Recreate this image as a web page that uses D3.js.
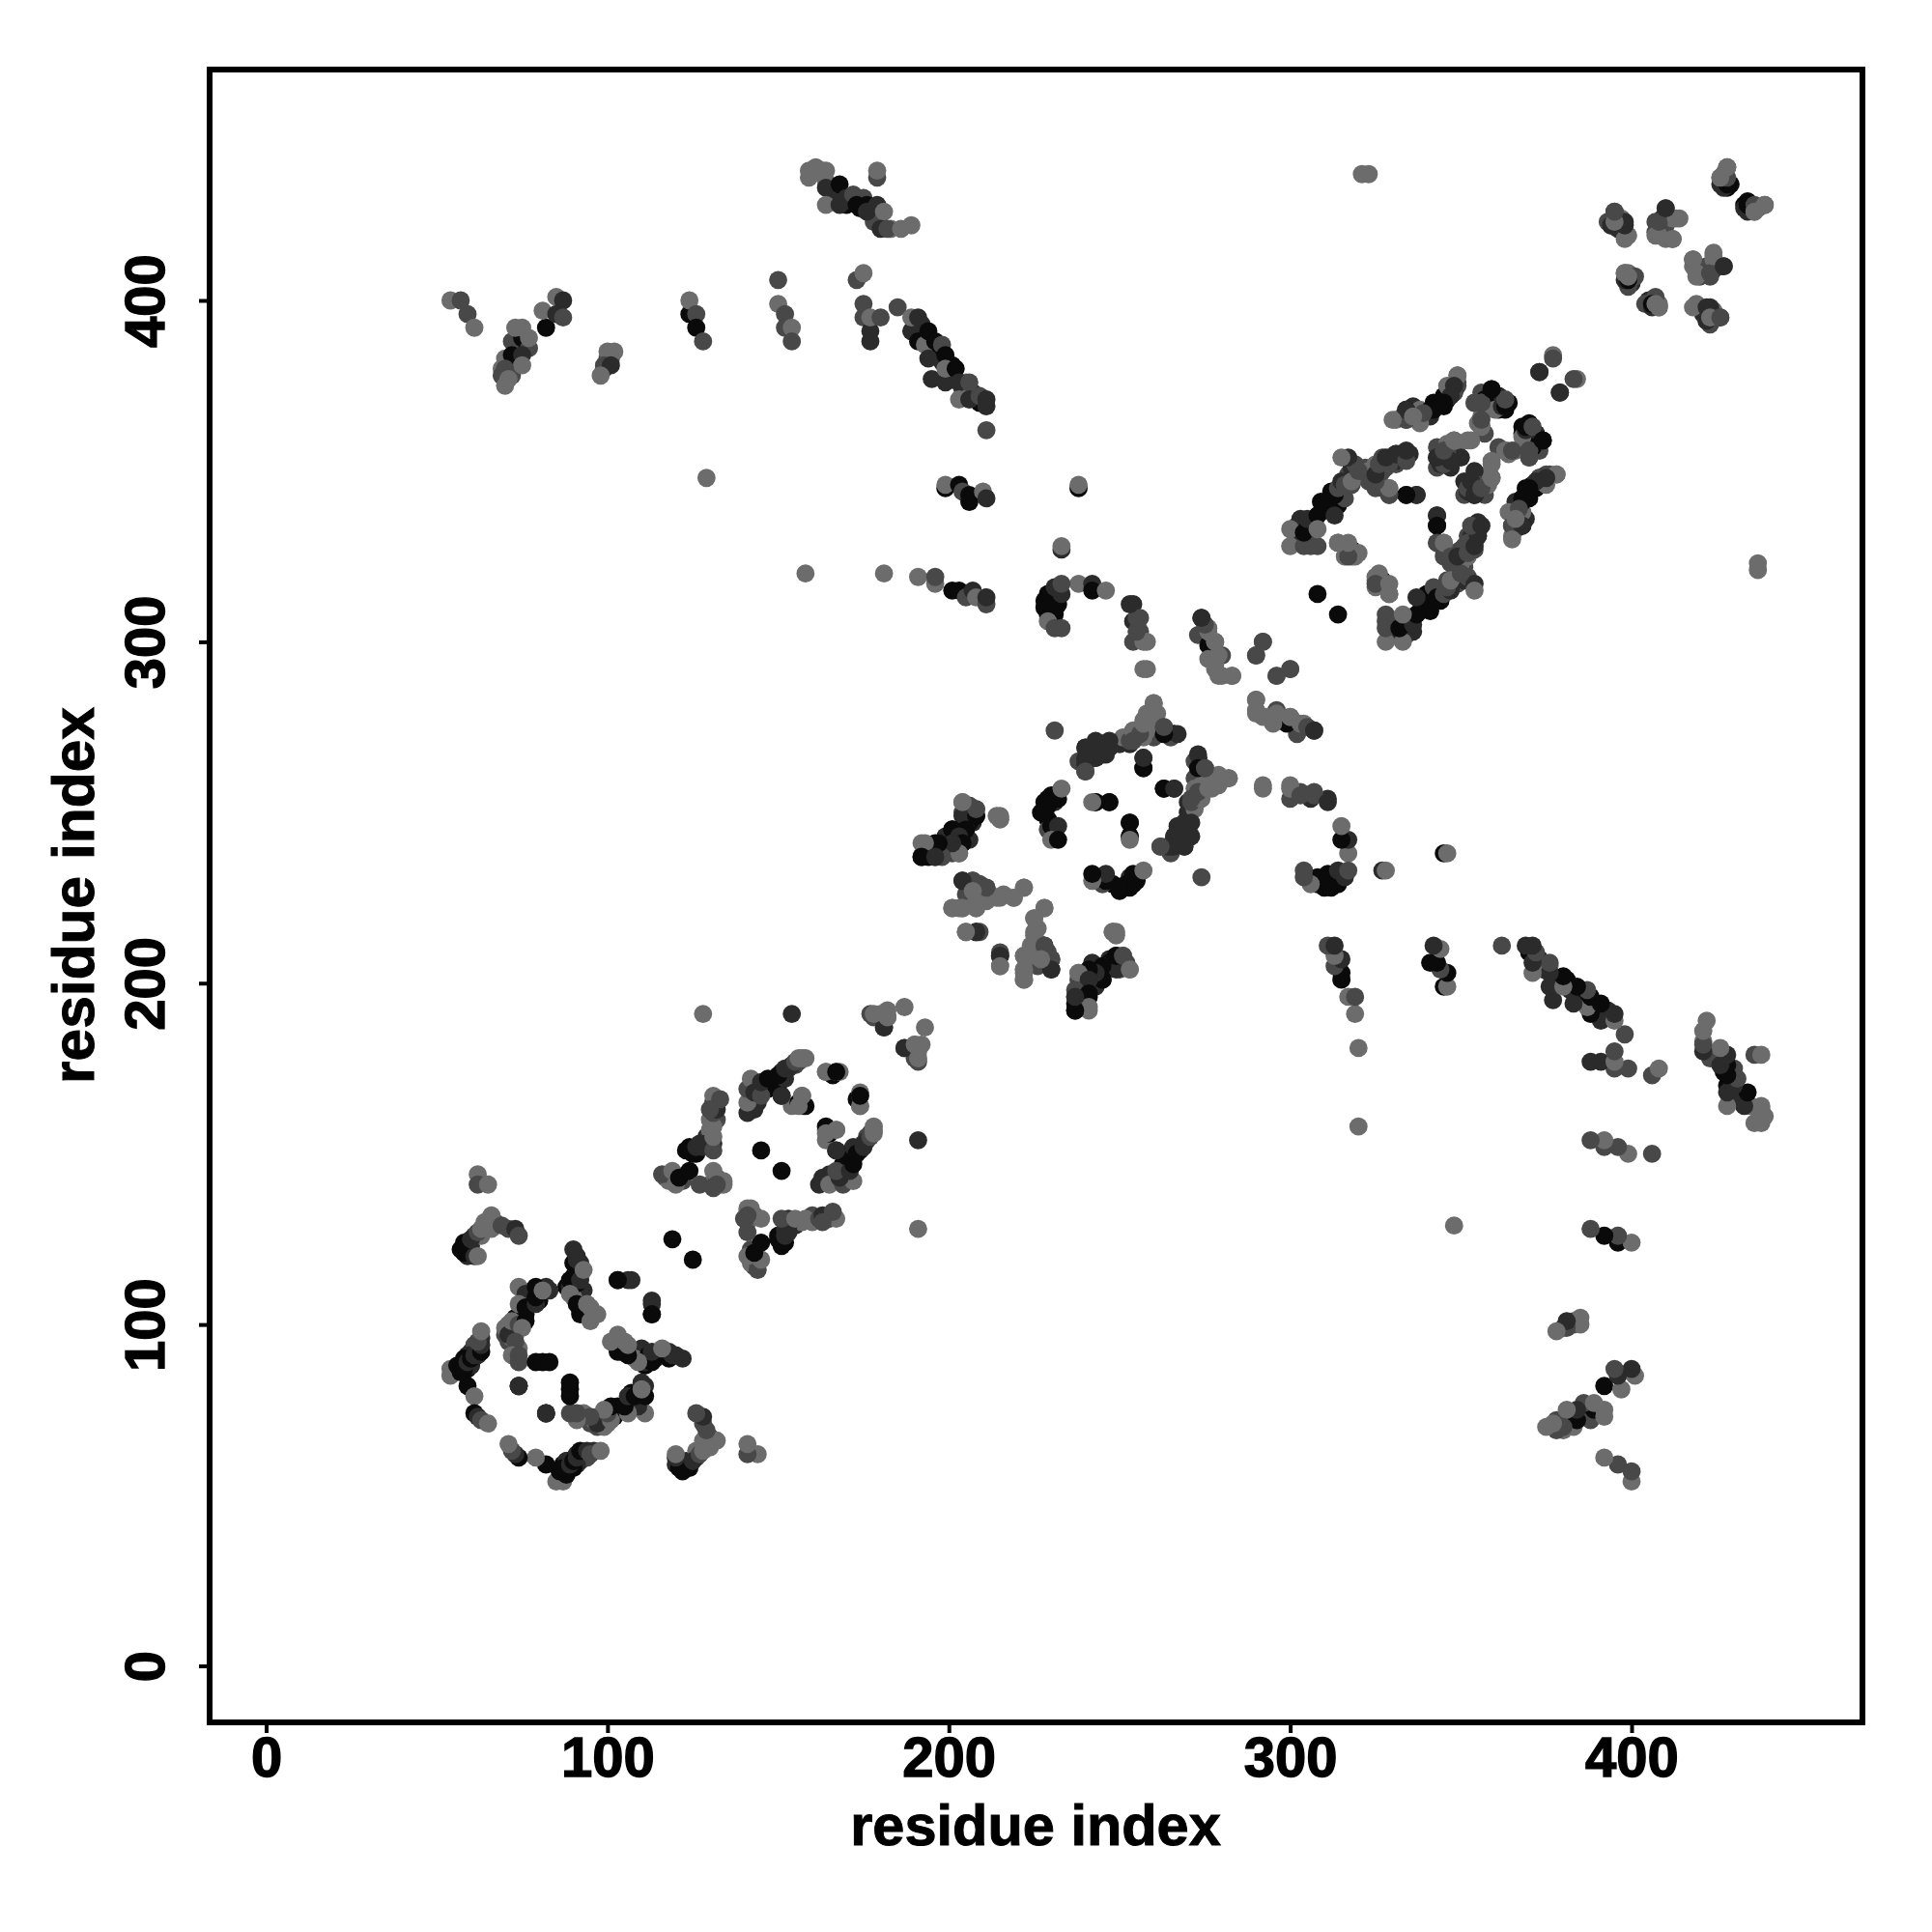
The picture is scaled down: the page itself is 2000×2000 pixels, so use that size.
<!DOCTYPE html>
<html><head><meta charset="utf-8">
<script src="https://cdn.jsdelivr.net/npm/d3@7"></script>
<style>html,body{margin:0;padding:0;background:#fff}svg{display:block}</style>
</head><body><svg id="c" width="2000" height="2000"></svg>
<script>
// Each contact: [residue i, residue j, shade level]. Drawn at (i,j) and mirrored at (j,i).
const shadeColors = ["#0a0a0a", "#2b2b2b", "#484848", "#6c6c6c"];
const tickValues = [0, 100, 200, 300, 400];
const axisLabel = "residue index";

const underA = [
[58,124,0],[60,123,1],[59,120,1],[61,126,2],[63,126,3],[65,129,3],[67,130,2],[66,128,3],[71,128,2],
[60,92,1],[61,94,2],[62,92,0],[60,88,0],[55,86,3],[59,87,0],[60,88,1],[59,91,1],[62,91,1],[63,96,1],
[76,103,0],[77,106,0],[78,110,0],[80,109,1],[82,111,1],[76,107,1],[71,100,3],[73,98,2],[74,93,3],[73,97,3],
[88,111,0],[89,111,1],[90,110,0],[90,114,0],[91,115,1],[92,118,1],[90,118,0],[93,110,1],[90,108,3],[92,104,0],[94,103,3],
[71,95,2],[71,99,3],[70,97,2],[72,97,1],[73,100,3],[72,99,2],[73,102,0],[72,96,3],[79,109,0],[80,107,0],[82,110,1]
];
const underB = [
[146,170,0],[148,171,0],[149,172,0],[151,174,1],[153,175,1],[155,176,2],[156,177,2],[158,178,3],[144,170,1],[143,170,2],[144,165,1],[143,163,1],[142,167,2],
[125,150,0],[126,150,0],[128,152,1],[130,152,1],[129,155,1],[130,156,2],[131,153,1],[130,157,3],[132,165,2],[131,165,1],[132,160,2],
[117,143,2],[120,143,2],[122,142,2],[118,142,3],[130,141,3],[132,143,2],[134,142,3],[134,141,3],[147,169,0],[150,170,0],[152,172,1]
];
const underC = [
[245,270,1],[242,268,1],[241,267,1],[246,267,1],[238,265,2],[244,268,1],[255,272,2],[256,274,3],[252,271,1],[250,270,1],[258,275,3],[259,278,3],[261,279,3],
[273,266,0],[272,260,2],[272,257,3],[274,258,3],[270,253,1],[269,247,1],[268,241,1],[264,240,1],[267,245,1],
[227,250,0],[228,253,0],[229,254,0],[230,255,0],[231,253,1],[229,248,0],[231,244,0],[229,245,2],[231,243,0],
[200,243,1],[199,240,0],[194,239,1],[194,237,0],[197,239,1],[201,238,2],[203,242,1],[206,252,2],[207,247,1],[205,248,0],[206,248,2],
[206,224,3],[209,226,2],[211,224,3],[205,226,2],[212,226,3],[203,222,3],[226,216,3],[225,209,3],[229,209,2],
[239,200,1],[243,199,1],[238,194,0],[239,197,0],[247,206,0],[249,206,1],[240,202,0],[242,206,1]
];
const underD = [
[335,366,1],[337,366,2],[339,367,0],[342,370,0],[345,372,0],[347,374,1],[349,375,2],[345,369,0],[361,372,1],[363,368,0],[368,361,0],[372,361,1],[373,356,2],[371,357,0],[364,355,3],[360,368,3],[357,361,2],
[344,356,2],[346,354,1],[343,351,2],[349,355,3],[354,350,1],[355,346,2],[351,347,1],[352,344,1],[357,343,2],
[373,348,0],[371,345,0],[369,343,0],[366,341,1],[367,337,1],[369,336,1],[366,333,2],[376,349,2],[364,338,3],
[302,330,1],[302,334,2],[303,336,1],[305,333,0],[306,332,2],[309,338,1],[310,339,0],[312,341,0],[309,341,0],[312,344,0],[314,340,0],[315,343,1],[316,342,2],[317,349,2],[318,351,1],[319,352,2],[318,346,2],[306,328,2],
[322,351,2],[326,351,2],[328,352,2],[330,353,2],[332,353,1],[333,354,1],[327,345,2],[323,350,3],[323,347,2],
[351,328,2],[352,331,2],[353,331,1],[354,333,1],[352,329,2],[355,332,2],[348,326,2],[350,327,2],[316,328,2],[318,325,3],[317,326,0]
];
const underE = [
[427,437,3],[428,433,0],[429,434,0],[433,427,1],[434,426,1],[396,423,1],[397,421,1],[409,424,1],[409,420,2],[410,418,3],[419,410,3],[422,410,2],[420,407,2],[400,405,1],[399,404,2],[399,407,2],[406,398,1],[408,399,3],[421,396,1],[422,396,1],[423,393,2],[424,397,3]
];
const underF = [
[73,388,3],[74,386,0],[73,385,1],[76,387,1],[71,382,3],[70,383,3],[72,380,2],[72,378,2],[69,380,3],[74,390,3],[75,386,0],[100,383,2],[101,383,2],[99,380,2]
];
const underG = [
[190,393,1],[192,390,0],[193,389,1],[195,386,0],[197,385,0],[198,382,1],[200,378,0],[201,381,0],[201,377,1],[204,374,1],[205,373,1],[207,373,1],[208,371,1],[209,370,0],[205,376,3],[204,372,3],[192,393,1],
[166,431,1],[168,431,1],[170,428,0],[172,429,2],[174,427,0],[175,430,2],[177,426,1],[178,425,0],[179,424,1],[177,427,2],[178,423,2],[183,421,3],[160,438,3],[163,438,3],
[229,310,0],[230,313,0],[231,312,0],[229,308,0],[232,311,0],[231,310,0],[232,315,1],[230,314,0],[228,310,0]
];

const blockA = [
[57,122,0],[58,121,0],[58,123,0],[59,124,0],[60,125,1],[61,120,1],[62,120,3],[62,127,2],[63,128,3],[64,130,3],[66,132,3],[69,129,2],[73,128,1],[74,126,2],
[62,144,3],[62,141,2],[65,141,3],
[119,125,0],
[82,74,1],[74,82,1],
[54,87,3],[54,85,3],[56,88,0],[57,86,0],[58,87,0],[58,90,0],[59,89,1],[60,90,0],[61,91,1],[63,92,0],[63,94,1],[62,95,2],[63,98,3],
[59,82,0],[61,79,3],[61,74,0],[62,73,1],[63,72,2],[65,71,3],
[70,99,3],[71,97,1],[72,101,3],[74,100,2],[76,101,0],[75,99,3],[73,95,2],[72,91,3],[74,91,2],[74,89,2],[74,111,3],[76,109,1],[74,106,3],[76,105,0],[79,106,1],[79,108,0],[79,111,0],[83,110,1],[81,110,3],
[79,89,0],[81,89,0],[83,89,0],[74,82,1],
[90,122,1],[91,120,1],[91,119,1],[89,113,0],[91,112,0],[92,113,1],[93,116,3],[89,109,3],[91,106,0],[92,103,0],[94,106,3],[95,105,3],[95,101,3],[97,103,3],
[103,113,1],[106,113,1],[113,107,1],[113,103,0]
];

const blockB = [
[128,191,3],[154,191,1],[177,191,2],[178,190,2],[180,191,3],[181,187,2],[182,190,3],[182,192,3],[187,193,3],[187,181,1],[190,182,3],[191,178,3],
[141,162,1],[141,165,3],[141,169,2],[142,172,3],[143,168,1],[145,167,2],[145,171,1],[147,172,0],[150,173,0],[151,167,0],[152,175,1],[154,176,1],[155,177,2],[156,178,3],[157,178,3],
[154,164,3],[156,165,0],[157,167,3],[157,164,3],[164,174,3],[166,173,0],[167,174,3],[174,168,3],[174,164,3],[174,167,0],[164,158,0],[164,156,3],[167,157,3],[167,151,1],
[116,144,2],[118,144,2],[119,145,3],[120,141,3],[121,143,0],[124,145,0],[127,141,2],[131,140,2],[131,145,3],[133,141,3],[132,141,2],
[123,151,0],[124,152,0],[126,152,1],[127,153,1],[129,153,1],[131,151,2],[131,155,3],[130,160,3],[131,158,3],[131,162,2],[132,163,1],[131,167,3],[133,166,2],[130,163,2],
[145,151,0]
];

const blockC = [
[231,274,2],[240,269,1],[243,270,1],[247,270,1],[240,262,2],[240,265,1],[243,266,1],[247,269,1],
[251,272,3],[253,271,2],[254,274,3],[257,277,3],[258,279,3],[260,282,3],[263,275,2],[266,273,0],[265,272,2],
[257,266,1],[257,263,0],[273,267,1],[273,263,0],[275,263,2],[263,257,0],[266,257,1],
[271,254,2],[273,256,2],[276,257,3],[279,259,3],[282,260,3],
[271,247,1],[269,244,1],[266,243,1],[271,243,1],[269,240,1],[266,240,1],[262,240,2],
[229,252,0],[228,250,0],[231,255,0],[232,254,0],[233,257,3],[230,246,0],[232,246,1],[230,242,3],[232,242,0],
[243,253,0],[247,253,0],[253,247,0],[253,243,0],[242,253,3],
[204,253,3],[204,250,2],[208,251,2],[208,249,0],[204,249,1],[201,245,0],[205,245,2],[204,242,1],[200,241,1],[196,241,0],[192,241,3],[192,237,0],[196,237,2],[198,238,1],[203,238,3],[215,248,3],[214,249,3],
[204,230,1],[207,230,2],[207,228,2],[211,228,1],[215,225,3],[219,225,3],[222,228,3],[208,224,3],[204,222,3],[201,222,3],[208,222,3],
[205,215,3],[208,215,0],[209,215,2],[215,208,1],[215,205,3],[228,222,3],[225,219,3],[225,214,3],[225,211,3],[228,211,2],[230,207,2],[230,204,1],[222,208,3],[222,204,3],[222,201,3],[227,207,3],
[248,215,3],[249,215,3],
[249,208,0],[251,208,2],[253,204,3],[245,205,0],[245,201,0],[243,203,1],[241,204,0],[238,203,3],[241,201,1],[237,198,2],[241,197,0],[241,193,3],[237,192,0],[237,196,1]
];

const blockD = [
[331,365,3],[334,368,0],[334,365,2],[338,368,3],[341,368,0],[343,369,0],[344,370,0],[346,371,0],[347,373,1],[348,373,2],[346,375,3],[349,378,3],
[359,374,0],[354,370,3],[356,370,2],[362,369,1],[364,370,0],[356,363,2],[356,366,3],[352,359,3],[348,359,3],[346,358,3],[343,354,0],[345,352,2],[347,353,1],
[369,363,0],[371,363,2],[370,356,2],[370,354,2],[374,359,0],[363,356,3],[365,356,2],
[353,347,1],[354,343,1],[356,345,2],[359,353,3],[359,348,3],
[378,349,3],[375,348,1],[372,347,1],[370,345,0],[368,342,0],[367,339,2],[365,334,2],[368,334,1],[365,330,3],[366,336,3],
[300,333,3],[300,328,3],[304,328,2],[304,332,0],[305,336,1],[308,328,2],[308,337,0],[308,333,3],[311,341,0],[313,337,1],[313,343,0],[314,345,2],[315,347,1],[316,346,2],[318,347,3],[317,354,1],[320,350,2],[315,354,3],
[314,329,2],[316,325,3],[317,328,2],[318,327,0],[320,326,3],
[325,352,3],[327,354,2],[329,354,2],[331,355,1],[334,355,0],[335,355,1],[325,348,2],[325,345,2],[329,345,3],[329,343,2],[334,343,0],[337,343,0],
[343,337,1],[343,334,0],[343,329,2],[345,329,3],[347,325,2],[349,325,1],[352,326,2],[354,328,1],[355,331,1],[353,334,2],[356,334,1],
[325,319,3],[325,317,2],[329,317,3],[329,314,3],
[308,314,0],
[373,379,1],[379,373,1],[377,384,3],[383,377,2]
];

const blockE = [
[428,439,2],[426,436,3],[428,435,0],[434,428,0],[436,428,2],[436,426,3],[439,428,3],
[395,426,2],[394,422,2],[398,423,1],[399,419,3],
[410,427,2],[407,423,2],[412,424,3],[414,424,3],[407,419,3],[412,418,2],
[418,412,3],[419,408,3],[423,408,2],[424,413,3],[427,410,1],
[398,408,3],[399,406,1],[401,407,2],
[406,399,0],[407,399,3],[408,398,3],
[418,398,3],[422,398,1],[422,394,1],[423,395,3],[426,395,2]
];

const blockF = [
[54,400,3],[57,400,2],[59,396,2],[61,392,3],
[72,388,2],[75,389,0],[72,384,0],[77,386,2],[75,384,1],[73,392,3],[75,392,3],[77,389,3],[75,381,3],[70,380,2],[69,378,2],[71,377,3],[70,375,3],
[82,392,0],[81,397,3],[85,401,3],[85,396,1],[87,400,1],[87,395,2],
[100,385,3],[102,385,3],[99,381,2],[101,381,1],[98,378,3],
[124,396,0],[124,400,3],[126,396,2],[126,392,0],[128,388,2],
[150,406,2],[150,399,3],[152,396,2],[152,392,2],[154,392,3],[154,388,2],
[173,406,2],[175,408,3],[175,399,2],[175,395,2],[177,391,1],[177,388,1],[177,395,3],[180,395,2],[185,398,2]
];

const blockG = [
[189,391,1],[189,395,3],[191,395,1],[191,388,0],[193,387,3],[194,391,0],[194,383,1],[195,377,1],[196,388,0],[198,387,2],[199,384,0],[199,376,1],[199,380,3],[202,380,0],[203,376,1],[206,376,2],[203,371,3],[206,371,1],[209,372,2],[211,369,1],[211,371,1],[211,362,2],
[159,436,3],[159,438,3],[161,439,3],[164,438,3],[164,435,3],[164,433,1],[164,428,3],[168,428,1],[168,434,0],[170,430,1],[172,431,2],[173,428,0],[176,428,0],[176,426,1],[179,428,1],[181,426,3],[180,421,1],[182,421,2],[186,421,3],[189,422,3],[179,436,2],[179,438,3],
[321,437,3],[323,437,3],[129,348,3],[158,320,3],[181,320,3],
[191,319,3],[196,317,3],[196,319,2],
[201,315,0],[203,315,0],[205,313,2],[207,315,1],[208,313,3],[211,311,2],[211,313,1],
[199,345,0],[199,346,3],[203,346,0],[204,344,2],[206,343,0],[206,341,0],[210,344,3],[211,342,1],
[238,345,0],[238,346,3],[233,327,1],[233,328,3],
[238,317,3],[242,317,1],[242,315,0],[246,315,3],
[228,312,0],[229,314,0],[230,311,0],[231,308,0],[232,313,0],[233,314,1],[231,316,1],[233,317,2],[229,306,3],[231,304,2],[233,304,2],
[254,311,1],[254,306,1],[256,307,2],[256,303,2],[254,300,2],[258,300,3],[258,292,3],
[274,307,1],[276,304,3],[273,302,2],[276,299,0],[278,300,3],[276,295,3],[280,296,2],[278,292,3],[280,290,3],[283,290,3],
[292,300,2],[290,296,3],[296,290,2],[300,292,2],
[290,283,3],[290,279,3],[293,278,3],[296,279,3],[300,278,3],[303,276,3],[305,275,2],[307,274,1],
[292,257,3],[300,257,3],[303,255,2],[307,255,2],[311,253,1]
];

const blocks = [underA, underB, underC, underD, underE, underF, underG, blockA, blockB, blockC, blockD, blockE, blockF, blockG];

const W = 2000, H = 2000;
const box = {left: 217, right: 1928, top: 72, bottom: 1783};
const x = d3.scaleLinear().domain([0, 400]).range([275.5, 1689]);
const y = d3.scaleLinear().domain([0, 400]).range([1724.5, 311]);
const color = d3.scaleOrdinal().domain([0, 1, 2, 3]).range(shadeColors);

const svg = d3.select("#c");
svg.append("rect").attr("width", W).attr("height", H).attr("fill", "#fff");

const marks = [];
blocks.forEach(b => b.forEach(c => {
  marks.push({px: c[0], py: c[1], s: c[2]});
  marks.push({px: c[1], py: c[0], s: c[2]});
}));

svg.append("g").selectAll("circle").data(marks).join("circle")
  .attr("cx", d => x(d.px)).attr("cy", d => y(d.py)).attr("r", 9.4)
  .attr("fill", d => color(d.s));

svg.append("rect")
  .attr("x", box.left).attr("y", box.top)
  .attr("width", box.right - box.left).attr("height", box.bottom - box.top)
  .attr("fill", "none").attr("stroke", "#000").attr("stroke-width", 6);

const font = "'Liberation Sans', Arial, sans-serif";
const styleText = s => s.attr("font-family", font).attr("font-weight", "bold").attr("fill", "#000").attr("stroke", "#000");
const xAxis = d3.axisBottom(x).tickValues(tickValues).tickSize(11).tickPadding(0).tickFormat(d3.format("d"));
const yAxis = d3.axisLeft(y).tickValues(tickValues).tickSize(11).tickPadding(0).tickFormat(d3.format("d"));
const gx = svg.append("g").attr("transform", `translate(0,${box.bottom})`).call(xAxis);
gx.select(".domain").remove();
gx.selectAll("line").attr("stroke", "#000").attr("stroke-width", 4);
gx.selectAll("text").attr("y", 0).attr("dy", "0").attr("transform", "translate(0,56)")
  .call(styleText).attr("font-size", 58).attr("stroke-width", 1.4);
const gy = svg.append("g").attr("transform", `translate(${box.left},0)`).call(yAxis);
gy.select(".domain").remove();
gy.selectAll("line").attr("stroke", "#000").attr("stroke-width", 4);
gy.selectAll("text").attr("x", 0).attr("dy", 0).attr("text-anchor", "middle")
  .attr("transform", "translate(-47,0) rotate(-90)");
gy.selectAll(".tick").each(function(){
  d3.select(this).select("text").call(styleText).attr("font-size", 58).attr("stroke-width", 1.4);
});
svg.append("text").attr("x", 1072).attr("y", 1910).attr("text-anchor", "middle")
  .call(styleText).attr("stroke-width", 1).attr("font-size", 59.5).text(axisLabel);
svg.append("text").attr("transform", "translate(97,927) rotate(-90)").attr("text-anchor", "middle")
  .call(styleText).attr("stroke-width", 1).attr("font-size", 60.5).text(axisLabel);
</script></body></html>
